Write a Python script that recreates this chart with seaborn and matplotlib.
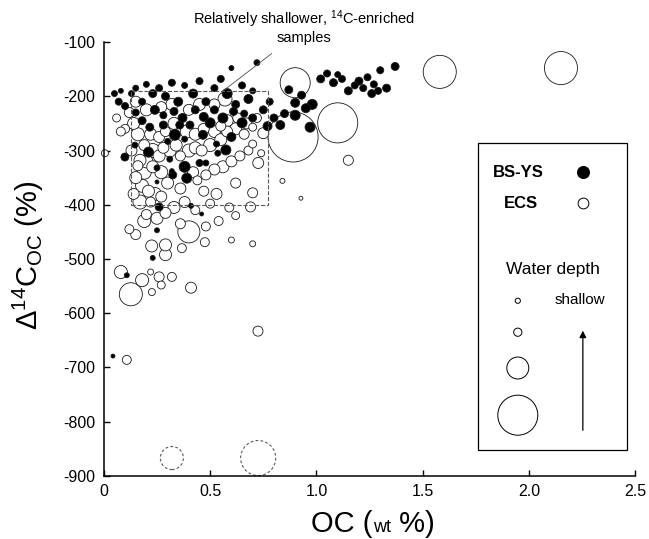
import numpy as np
import pandas as pd
import seaborn as sns
import matplotlib.pyplot as plt
from matplotlib.patches import Rectangle

# BS-YS samples (filled): OC wt%, D14C, water depth (m)
bs_oc = [1.37, 1.30, 1.33, 1.29, 1.26, 1.27, 1.24, 1.22, 1.20, 1.18, 1.15, 1.12, 1.08, 1.05, 1.02, 1.10,
         0.98, 0.95, 0.93, 0.90, 0.87, 0.97, 0.90, 0.83, 0.85, 0.80, 0.77, 0.72, 0.78, 0.75,
         0.05, 0.07, 0.08, 0.10, 0.13, 0.15, 0.18, 0.20, 0.23, 0.26, 0.29, 0.32, 0.35, 0.38, 0.42, 0.45,
         0.48, 0.52, 0.55, 0.58, 0.60, 0.62, 0.65, 0.68, 0.70,
         0.216, 0.28, 0.357, 0.405, 0.50, 0.65, 0.70, 0.334, 0.466, 0.60, 0.30, 0.38, 0.21, 0.099, 0.146,
         0.31, 0.38, 0.45, 0.48, 0.536, 0.53, 0.574, 0.324, 0.39, 0.32, 0.25, 0.25,
         0.15, 0.18, 0.24, 0.28, 0.33, 0.37, 0.43, 0.47, 0.52, 0.56, 0.61, 0.66,
         0.26, 0.41, 0.46, 0.25, 0.23, 0.108, 0.043]
bs_d14c = [-145, -152, -185, -190, -195, -178, -165, -185, -172, -180, -190, -168, -175, -158, -168, -160,
           -215, -222, -198, -212, -188, -257, -235, -253, -232, -240, -255, -138, -210, -225,
           -195, -210, -190, -218, -195, -185, -210, -178, -195, -185, -200, -175, -210, -180, -195, -172,
           -210, -185, -168, -195, -148, -215, -180, -205, -190,
           -257, -253, -253, -253, -249, -249, -240, -271, -271, -275, -283, -279, -303, -312, -290,
           -316, -330, -323, -323, -305, -288, -299, -345, -351, -338, -358, -332,
           -230, -245, -225, -235, -228, -240, -225, -238, -225, -240, -228, -232,
           -404, -402, -417, -447, -498, -530, -679]
bs_depth = [41, 32, 41, 32, 41, 32, 32, 32, 41, 32, 41, 32, 41, 32, 41, 23,
            65, 52, 41, 52, 41, 65, 65, 52, 41, 41, 52, 23, 32, 41,
            23, 32, 16, 32, 23, 23, 32, 23, 41, 32, 41, 32, 52, 23, 52, 32,
            41, 32, 32, 65, 16, 41, 32, 52, 23,
            41, 41, 41, 41, 65, 65, 41, 78, 52, 52, 23, 23, 65, 41, 23,
            23, 78, 32, 23, 23, 23, 65, 41, 65, 16, 10, 23,
            32, 41, 52, 32, 41, 52, 41, 52, 41, 65, 41, 32,
            41, 16, 10, 16, 16, 16, 10]

# ECS samples (open)
ecs_oc = [0.89, 1.10, 0.90, 1.58, 2.15, 0.40, 0.127,
          1.15, 0.84, 0.927, 0.725, 0.70, 0.108, 0.005,
          0.14, 0.16, 0.17, 0.16, 0.19, 0.15, 0.18, 0.14, 0.21, 0.24, 0.17, 0.22, 0.27, 0.20, 0.23, 0.26,
          0.28, 0.31, 0.34, 0.36, 0.40, 0.43, 0.46, 0.50, 0.55, 0.58, 0.62, 0.66, 0.70, 0.70, 0.74, 0.726,
          0.75, 0.68, 0.64, 0.60, 0.56, 0.52, 0.48, 0.44, 0.42, 0.36, 0.30, 0.27, 0.23, 0.19, 0.22, 0.26,
          0.29, 0.33, 0.39, 0.43, 0.47, 0.52, 0.55, 0.58, 0.63, 0.67, 0.72, 0.57, 0.52, 0.45, 0.40, 0.32,
          0.27, 0.20, 0.15, 0.12, 0.10, 0.13, 0.70, 0.69, 0.62, 0.59, 0.53, 0.50, 0.47, 0.38, 0.33, 0.29, 0.43,
          0.225, 0.29, 0.29, 0.367, 0.475, 0.60, 0.25, 0.19, 0.15, 0.12, 0.20, 0.36, 0.48, 0.54, 0.62,
          0.08, 0.18, 0.22, 0.26, 0.27, 0.226, 0.32, 0.41, 0.06, 0.08]
ecs_d14c = [-275, -249, -175, -155, -148, -450, -565,
            -318, -356, -388, -633, -472, -686, -305,
            -250, -270, -318, -328, -340, -350, -365, -380, -375, -380, -395, -395, -385, -320, -300, -310,
            -295, -300, -290, -310, -300, -295, -300, -290, -280, -265, -260, -270, -257, -288, -305, -323,
            -268, -300, -310, -320, -330, -335, -345, -355, -340, -370, -360, -340, -330, -290, -270, -275,
            -265, -250, -265, -270, -260, -265, -255, -245, -240, -250, -240, -205, -215, -215, -225, -215,
            -220, -225, -210, -230, -260, -300, -378, -404, -360, -405, -380, -398, -375, -395, -405, -415, -410,
            -476, -474, -492, -480, -469, -465, -425, -430, -455, -445, -418, -435, -440, -430, -420,
            -524, -539, -524, -533, -548, -561, -533, -553, -240, -265]
ecs_depth = [1620, 1037, 583, 706, 706, 314, 343,
             65, 16, 10, 65, 23, 52, 32,
             93, 110, 93, 65, 127, 93, 110, 78, 93, 110, 127, 65, 78, 110, 127, 93,
             78, 110, 93, 65, 110, 93, 78, 110, 93, 78, 93, 65, 41, 41, 32, 78,
             78, 52, 65, 78, 93, 78, 65, 52, 78, 78, 93, 110, 93, 78, 93, 78,
             65, 93, 110, 93, 78, 93, 65, 93, 65, 78, 52, 127, 78, 93, 78, 93,
             78, 93, 78, 65, 52, 78, 65, 65, 65, 52, 78, 52, 65, 78, 93, 78, 52,
             93, 93, 93, 52, 52, 23, 93, 110, 65, 52, 65, 65, 52, 52, 41,
             110, 110, 23, 65, 41, 32, 52, 78, 41, 52]

# samples drawn with dashed outline near the bottom
dash_oc = [0.32, 0.726]
dash_d14c = [-867, -867]
dash_depth = [343, 794]

df = pd.concat([
    pd.DataFrame({"OC": ecs_oc, "D14C": ecs_d14c, "depth": ecs_depth, "region": "ECS"})
      .sort_values("depth", ascending=False),
    pd.DataFrame({"OC": bs_oc, "D14C": bs_d14c, "depth": bs_depth, "region": "BS-YS"}),
], ignore_index=True)
dash_df = pd.DataFrame({"OC": dash_oc, "D14C": dash_d14c, "depth": dash_depth})

sns.set_style("ticks")
plt.rcParams["font.family"] = ["Liberation Sans", "DejaVu Sans"]
plt.rcParams["mathtext.fontset"] = "custom"
plt.rcParams["mathtext.rm"] = "Liberation Sans"
plt.rcParams["mathtext.it"] = "Liberation Sans:italic"
plt.rcParams["mathtext.bf"] = "Liberation Sans:bold"
plt.rcParams["axes.unicode_minus"] = False
plt.rcParams["text.color"] = "black"
plt.rcParams["xtick.color"] = "black"
plt.rcParams["ytick.color"] = "black"
plt.rcParams["axes.edgecolor"] = "black"

fig = plt.figure(figsize=(6.49, 5.39), dpi=100)
ax = fig.add_axes([0.160, 0.117, 0.819, 0.805])

size_kw = dict(sizes=(8, 1300), size_norm=(10, 1620))
sns.scatterplot(data=df, x="OC", y="D14C", size="depth", hue="region",
                palette={"BS-YS": "black", "ECS": "white"}, edgecolor="0.1",
                linewidth=0.6, legend=False, ax=ax, clip_on=False, **size_kw)
sns.scatterplot(data=dash_df, x="OC", y="D14C", size="depth", legend=False, ax=ax,
                color="white", edgecolor="0.35", linewidth=0.8, clip_on=False, **size_kw)
ax.collections[-1].set_facecolor("none")
ax.collections[-1].set_linestyle((0, (2.5, 2)))

ax.set_xlim(0, 2.5)
ax.set_ylim(-900, -100)
ax.set_xticks([0, 0.5, 1.0, 1.5, 2.0, 2.5])
ax.set_xticklabels(["0", "0.5", "1.0", "1.5", "2.0", "2.5"])
ax.set_yticks(np.arange(-900, -99, 100))
ax.tick_params(direction="in", length=4.5, width=1, labelsize=11.5, pad=6, colors="black")
sns.despine(ax=ax)
for s in ["left", "bottom"]:
    ax.spines[s].set_linewidth(1.1)
ax.set_xlabel("")
ax.set_ylabel("")

# dashed box and annotation
ax.add_patch(Rectangle((0.13, -400), 0.64, 210, fill=False, ls="--", lw=0.8, ec="0.35"))
ax.text(0.94, -58, r"Relatively shallower, $^{14}$C-enriched", ha="center", va="center", fontsize=10.5)
ax.text(0.94, -92, "samples", ha="center", va="center", fontsize=10.5)
ax.annotate("", xy=(0.555, -192), xytext=(0.80, -118),
            arrowprops=dict(arrowstyle="-", lw=0.6, color="0.3"))

# legend box
ax.add_patch(Rectangle((1.76, -852), 0.70, 566, fill=False, lw=0.9, ec="black"))
ax.text(2.07, -340, "BS-YS", ha="right", va="center", fontsize=12, fontweight="bold")
ax.text(2.04, -397, "ECS", ha="right", va="center", fontsize=12, fontweight="bold")
ax.scatter([2.253], [-340], s=75, c="black", edgecolors="black", linewidths=0.7)
ax.scatter([2.253], [-397], s=60, c="white", edgecolors="black", linewidths=0.7)
ax.text(2.11, -520, "Water depth", ha="center", va="center", fontsize=12.5)
ax.text(2.24, -576, "shallow", ha="center", va="center", fontsize=11)
ax.scatter([1.947] * 4, [-577, -635, -701, -788], s=[14, 35, 250, 830],
           c="white", edgecolors="black", linewidths=0.7)
ax.annotate("", xy=(2.253, -627), xytext=(2.253, -821),
            arrowprops=dict(arrowstyle="-|>", lw=0.9, color="black", mutation_scale=10))

# axis labels
fig.text(28 / 649, 1 - 255 / 539, r"$\Delta^{14}$C$_{\mathrm{OC}}$ (%)", rotation=90,
         ha="center", va="center", fontsize=21)
yb = 7 / 539
t1 = fig.text(0, yb, "OC (", fontsize=21, va="baseline")
t2 = fig.text(0, yb, "wt", fontsize=13, va="baseline")
t3 = fig.text(0, yb, " %)", fontsize=21, va="baseline")
r = fig.canvas.get_renderer()
widths = [t.get_window_extent(r).width for t in (t1, t2, t3)]
x0 = 373 - sum(widths) / 2
for t, w in zip((t1, t2, t3), widths):
    t.set_x(x0 / 649)
    x0 += w

fig.savefig("out.png", dpi=100)
